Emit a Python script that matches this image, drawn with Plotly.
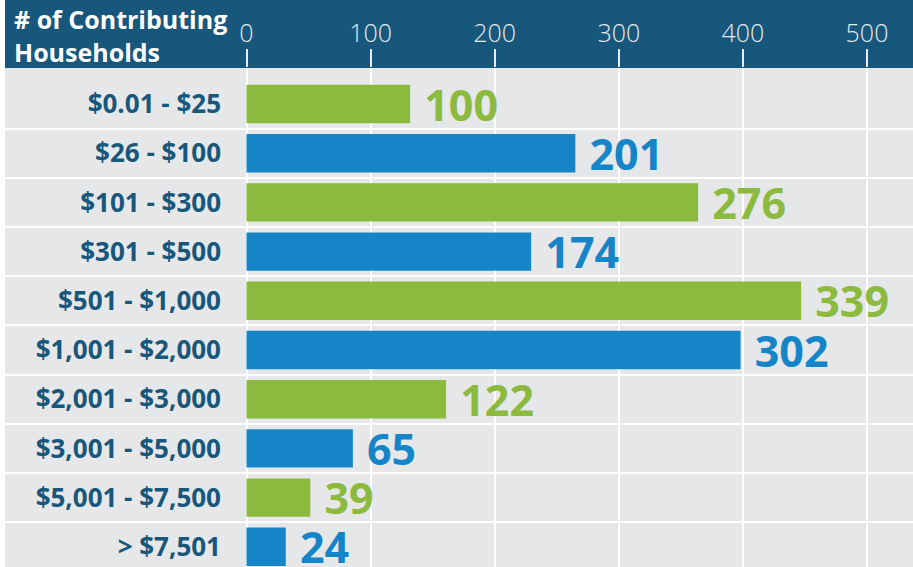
import plotly.graph_objects as go

# ---------------- data ----------------
categories = ["$0.01 - $25", "$26 - $100", "$101 - $300", "$301 - $500",
              "$501 - $1,000", "$1,001 - $2,000", "$2,001 - $3,000",
              "$3,001 - $5,000", "$5,001 - $7,500", "> $7,501"]
households = [100, 201, 276, 174, 339, 302, 122, 65, 39, 24]
x_ticks = [0, 100, 200, 300, 400, 500]
title_text = "# of Contributing<br>Households"

# ---------------- styles ----------------
GREEN = "#8cba3f"
BLUE = "#1685c8"
HEADER = "#17577b"
BG = "#e6e7e9"
LABEL = "#17577b"
TICKTXT = "#e3e9ee"

W, H = 913, 567
ML, MR, MT, MB = 5, 0, 68, 0
plot_w = W - ML - MR
plot_h = H - MT - MB

zero_px = 246.5           # pixel x of value 0
bar_scale = 1.636         # px per unit for bars
tick_scale = 1.241        # px per unit for the top axis
row_pitch = 49.2
first_row_center = 104

bar_range = [-(zero_px - ML) / bar_scale, (W - MR - zero_px) / bar_scale]
tick_range = [-(zero_px - ML) / tick_scale, (W - MR - zero_px) / tick_scale]
y_top = -(first_row_center - MT) / row_pitch
y_bot = y_top + plot_h / row_pitch

n = len(categories)
idx = list(range(n))
colors = [GREEN if i % 2 == 0 else BLUE for i in idx]

fig = go.Figure()
fig.add_trace(go.Bar(
    x=households, y=idx, orientation="h",
    marker=dict(color=colors, line=dict(width=0)),
    width=0.78,
    texttemplate="\u00a0%{x}", textposition="outside",
    textfont=dict(family="Open Sans", size=43, color=colors, weight="bold"),
    constraintext="none", cliponaxis=False,
    hoverinfo="skip",
))
# invisible helper trace so the top tick axis is drawn
fig.add_trace(go.Scatter(x=[0], y=[0], xaxis="x2", yaxis="y", mode="markers",
                         marker=dict(opacity=0), hoverinfo="skip", showlegend=False))

fig.update_layout(
    width=W, height=H,
    margin=dict(l=ML, r=MR, t=MT, b=MB, pad=0),
    paper_bgcolor="white", plot_bgcolor=BG,
    showlegend=False,
    xaxis=dict(range=bar_range, showgrid=False, zeroline=False,
               showticklabels=False, ticks="", showline=False),
    xaxis2=dict(range=tick_range, overlaying="x", side="top", anchor="y",
                tickmode="array", tickvals=x_ticks,
                showgrid=True, gridcolor="white", gridwidth=2,
                zeroline=False, showline=False,
                ticks="outside", ticklen=18, tickwidth=1.5, tickcolor="#e8eef2",
                tickfont=dict(family="Open Sans", size=25, color=TICKTXT, weight=300),
                ticklabelstandoff=-3),
    yaxis=dict(range=[y_bot, y_top], tickmode="array", tickvals=idx, ticktext=categories,
               showgrid=False, zeroline=False, showline=False, ticks="",
               anchor="free", position=(221 - ML) / plot_w,
               tickfont=dict(family="Open Sans", size=26, color=LABEL, weight="bold"),
               minor=dict(tickmode="array", tickvals=[i + 0.5 for i in idx[:-1]],
                          showgrid=True, gridcolor="white", gridwidth=2, ticks="")),
    shapes=[dict(type="rect", xref="paper", yref="paper", x0=0, x1=1,
                 y0=1, y1=1 + MT / plot_h, fillcolor=HEADER, line=dict(width=0),
                 layer="below")],
    annotations=[dict(text=title_text, xref="paper", yref="paper",
                      x=(12 - ML) / plot_w, y=1 + MT / plot_h, xanchor="left", yanchor="top",
                      yshift=0, align="left", showarrow=False,
                      font=dict(family="Open Sans", size=25, color="white", weight="bold"))],
)

fig.write_html("out.html", config={"displayModeBar": False},
               post_script="document.body.style.margin='0';document.body.style.overflow='hidden';")
